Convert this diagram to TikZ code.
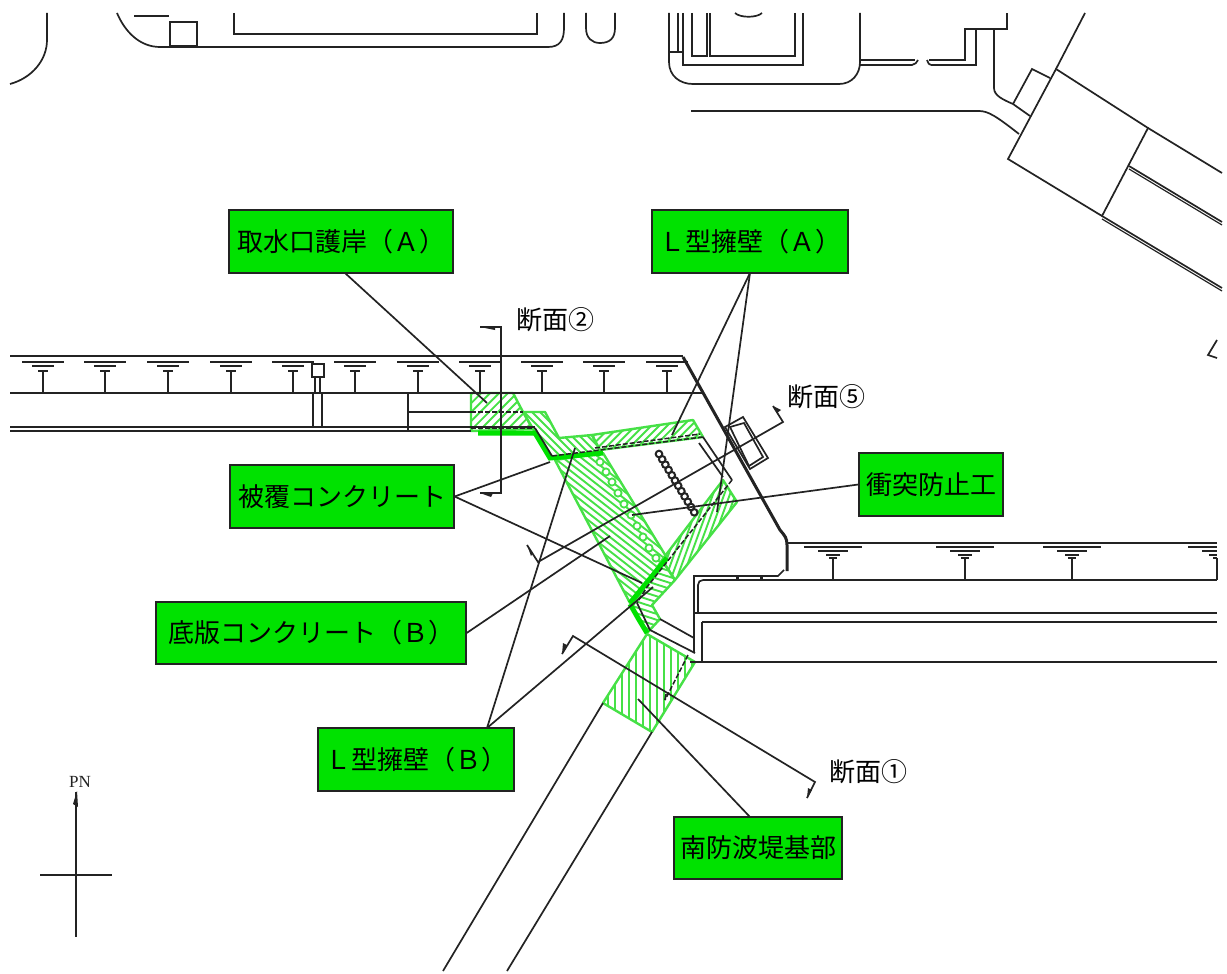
\documentclass[tikz,border=0pt]{standalone}
\usepackage{fontspec}
\setmainfont{Liberation Serif}
\newfontfamily\jpfont{Noto Sans CJK JP}
\definecolor{ink}{RGB}{35,35,35}
\definecolor{boxgreen}{RGB}{0,226,0}
\definecolor{hatchgreen}{RGB}{70,225,70}
\definecolor{solidgreen}{RGB}{0,225,0}
\tikzset{
 plan/.style={draw=ink,line width=1.7pt},
 heavy/.style={draw=ink,line width=3pt},
 leader/.style={draw=ink,line width=1.7pt},
 dashline/.style={draw=ink,line width=1.5pt,dash pattern=on 5pt off 2pt},
 hatchline/.style={draw=hatchgreen,line width=1.9pt},
 hatchedge/.style={draw=hatchgreen,line width=2.4pt,line join=round},
 solidg/.style={draw=solidgreen,line width=5pt},
 lab/.style={draw=ink,line width=1.3pt,fill=boxgreen,text=black,inner sep=0pt,font=\jpfont\fontsize{26}{26}\selectfont,anchor=center},
 sect/.style={text=black,font=\jpfont\fontsize{26}{26}\selectfont,inner sep=0pt},
 tip/.style={fill=ink,draw=none}
}
\newcommand\hatchfill[5]{%
 \begin{scope}\clip #1 -- cycle;
 \foreach \i in {-50,...,50}{\draw[hatchline,rotate around={#2:(#4,#5)}] ({#4-250},{#5+\i*#3}) -- ({#4+250},{#5+\i*#3});}
 \end{scope}
 \draw[hatchedge] #1 -- cycle;}
\newcommand\drainT[1]{%
 \draw[plan] (#1-21,362) -- (#1+21,362);
 \draw[plan,line width=2pt] (#1-11,366) -- (#1+11,366);
 \draw[plan,line width=2pt] (#1-5,371) -- (#1+5,371);
 \draw[plan] (#1,371) -- (#1,393);}
\newcommand\drainB[1]{%
 \draw[plan,line width=2pt] (#1-29,547) -- (#1+29,547);
 \draw[plan,line width=2pt] (#1-15,551) -- (#1+15,551);
 \draw[plan,line width=2pt] (#1-7,554.5) -- (#1+7,554.5);
 \draw[plan,line width=2pt] (#1-4,558) -- (#1+4,558);
 \draw[plan] (#1,558) -- (#1,580);}
\begin{document}
\begin{tikzpicture}[x=1pt,y=-1pt]
\useasboundingbox (0,0) rectangle (1227,974);
\fill[white] (0,0) rectangle (1227,974);
% hatching
\hatchfill{(471,393) -- (513,393) -- (523,412) -- (533,429) -- (471,431)}{45}{6.3}{500}{410}
\hatchfill{(523,412) -- (545,412) -- (559,438) -- (592,435) -- (600,451) -- (552,458) -- (533,429)}{-45}{5.6}{550}{430}
\hatchfill{(555,460) -- (603,453) -- (667,558) -- (630,603)}{-38}{5.6}{610}{530}
\hatchfill{(592,435) -- (693,420) -- (703,437) -- (600,450)}{45}{5.6}{650}{435}
\hatchfill{(723,480) -- (737,502) -- (675,580) -- (662,560)}{70}{5.3}{700}{530}
\hatchfill{(662,560) -- (675,580) -- (652,605) -- (660,619) -- (647,633) -- (632,607)}{-18}{5.6}{650}{600}
\hatchfill{(647,634) -- (695,662) -- (652,732) -- (603,703)}{90}{7}{650}{685}
\draw[solidg] (478,433) -- (535,433) -- (550,458) -- (603,453);
\draw[solidg] (630,603) -- (667,558);
\draw[solidg] (630,604) -- (638,618) -- (647,633);
% circles in band
\foreach \a/\b in {600/462,606/472,612/482,618/493,624/504,631/515,637/526,643/537,649/548,656/558}
 \draw[hatchgreen,line width=1.8pt,fill=white] (\a,\b) circle (3.6);
% chain
\foreach \i in {0,...,11}
 \draw[ink,line width=2pt] ({659+\i*3.2},{454+\i*5.3}) circle (3.3);
% top left
\draw[plan] (47,13) -- (47,40) .. controls (47,60) and (32,78) .. (10,84);
\draw[plan] (117,13) .. controls (125,32) and (140,47) .. (160,47) -- (548,47) .. controls (560,47) and (564,40) .. (564,28) -- (564,13);
\draw[plan] (134,16) -- (169,16);
\draw[plan] (170,22) rectangle (197,46);
\draw[plan] (234,13) -- (234,34) -- (537,34) -- (537,13);
\draw[plan] (586,13) -- (586,28) .. controls (586,38) and (592,43) .. (600,43) .. controls (610,43) and (615,38) .. (615,28) -- (615,13);
% top middle
\draw[plan] (669,13) -- (669,62) .. controls (669,76) and (680,84) .. (693,84) -- (839,84) .. controls (852,84) and (860,74) .. (860,62) -- (860,13);
\draw[plan] (683,13) -- (683,65) -- (803,65) -- (803,13);
\draw[plan] (795,13) -- (795,56) -- (710,56) -- (710,13);
\draw[plan] (692,13) -- (692,56) -- (707,56) -- (707,13);
\draw[plan] (678,13) -- (678,52);
\draw[plan] (669,52) -- (683,52);
\draw[plan] (735,13) .. controls (740,18) and (757,18) .. (762,13);
\draw[plan] (860,60) -- (915,60);
\draw[plan] (860,65) -- (912,65) .. controls (915,65) and (917,62) .. (918,60);
\draw[plan] (929,60) -- (965,60) -- (965,29) -- (1007,29) -- (1007,13);
\draw[plan] (931,65) -- (976,65) -- (976,29);
\draw[plan] (927,60) .. controls (928,63) and (929,65) .. (931,65);
% top right building
\draw[plan] (994,29) -- (994,88) .. controls (994,96) and (1004,100) .. (1013,104);
\draw[plan] (1013,104) -- (1032,69) -- (1050,78);
\draw[plan] (1013,104) -- (1030,116);
\draw[plan] (1056,69) -- (1008,159) -- (1102,216) -- (1148,128) -- cycle;
\draw[plan] (1085,13) -- (1056,69);
\draw[plan] (1148,128) -- (1222,173);
\draw[plan] (1129,166) -- (1222,222);
\draw[plan,line width=1.2pt] (1129,169) -- (1222,225);
\draw[plan] (1102,216) -- (1222,288);
\draw[plan,line width=1.2pt] (1102,219) -- (1222,291);
\draw[plan] (691,111) -- (979,111) .. controls (988,111) and (996,116) .. (1019,134);
% right-hand stub
\draw[plan] (1217,340) -- (1208,355) -- (1217,358);
% upper quay
\draw[plan] (10,356) -- (683,356);
\draw[plan] (10,393) -- (703,393);
\draw[plan] (10,427) -- (535,427);
\draw[plan] (10,431) -- (471,431);
\draw[plan] (408,393) -- (408,431);
\draw[plan] (408,412) -- (471,412);
\draw[dashline] (471,412) -- (523,412);
\draw[dashline] (471,428) -- (535,428);
\foreach \x in {43,105,168,231,293,355,418,480,542,604,667} {\drainT{\x}}
% gauge post
\draw[plan,fill=white] (312,364) rectangle (324,377);
\draw[plan] (315,377) -- (315,393);
\draw[plan] (320,377) -- (320,393);
\draw[plan] (313,393) -- (313,427);
\draw[plan] (322,393) -- (322,427);
% central outline
\draw[plan] (535,428) -- (552,456);
\draw[dashline] (552,456) -- (703,437);
\draw[dashline] (595,448) -- (700,434);
\draw[plan] (703,437) -- (732,480);
\draw[plan] (699,443) -- (723,477);
\draw[dashline] (732,480) -- (647,587) -- (637,603);
\draw[plan] (637,603) -- (650,630) -- (695,653);
\draw[plan] (660,619) -- (694,638);
\draw[dashline] (688,655) -- (665,700);
\draw[plan] (665,700) -- (666,694);
% heavy sea wall
\draw[heavy] (683,357) -- (780,530) .. controls (785,536) and (787,538) .. (787,545) -- (787,571);
\draw[plan] (725,427) -- (743,417) -- (768,458) -- (750,469) -- cycle;
\draw[plan] (730,427) -- (744,423) -- (763,457) -- (749,466) -- cycle;
% lower quay
\draw[plan] (787,543) -- (1217,543);
\draw[plan] (787,580) -- (1217,580);
\draw[plan] (703,580) -- (787,580);
\draw[plan] (703,580) .. controls (700,580) and (698,582) .. (698,585) -- (698,613);
\draw[plan] (694,653) -- (694,576) -- (778,576) -- (784,570);
\draw[plan] (694,613) -- (1217,613);
\draw[plan] (702,622) -- (1217,622);
\draw[plan] (702,622) -- (702,662);
\draw[plan] (690,662) -- (1217,662);
\draw[plan,line width=3pt] (737,576) -- (737,580);
\draw[plan,line width=3pt] (761,576) -- (761,580);
\foreach \x in {833,965,1072} {\drainB{\x}}
\draw[plan,line width=2pt] (1188,547) -- (1217,547);
\draw[plan,line width=2pt] (1202,551) -- (1217,551);
\draw[plan,line width=2pt] (1209,554.5) -- (1217,554.5);
\draw[plan,line width=2pt] (1213,558) -- (1217,558);
\draw[plan] (1217,558) -- (1217,580);
% south breakwater
\draw[plan] (603,703) -- (443,971);
\draw[plan] (652,732) -- (507,971);
% compass
\draw[plan] (76,792) -- (76,937);
\draw[plan] (40,875) -- (112,875);
\fill[ink] (77,791) -- (73,804) -- (78,807) -- cycle;
\node[font=\fontsize{17}{17}\selectfont,inner sep=0pt,text=ink] (north) at (80,782) {PN};
% labels
\node[lab,minimum width=224pt,minimum height=63pt] (torisui) at (341,241.5) {取水口護岸（Ａ）};
\node[lab,minimum width=196pt,minimum height=63pt] (lA) at (750,241.5) {Ｌ型擁壁（Ａ）};
\node[lab,minimum width=224pt,minimum height=63pt] (hifuku) at (342,496.5) {被覆コンクリート};
\node[lab,minimum width=144pt,minimum height=63pt] (shototsu) at (931,484.5) {衝突防止工};
\node[lab,minimum width=310pt,minimum height=62pt] (teiban) at (311,633) {底版コンクリート（Ｂ）};
\node[lab,minimum width=196pt,minimum height=63pt] (lB) at (416,759.5) {Ｌ型擁壁（Ｂ）};
\node[lab,minimum width=168pt,minimum height=62pt] (minami) at (758,848) {南防波堤基部};
\node[sect] (s2) at (555,320) {断面②};
\node[sect] (s5) at (826,397) {断面⑤};
\node[sect] (s1) at (868,772) {断面①};
% leader end points
\coordinate (tA) at (487,403);
\coordinate (tLA1) at (672,435);
\coordinate (tLA2) at (717,512);
\coordinate (tH1) at (550,462);
\coordinate (tH2) at (642,583);
\coordinate (tS) at (632,515);
\coordinate (tT) at (610,536);
\coordinate (tLB1) at (575,448);
\coordinate (tLB2) at (653,587);
\coordinate (tM) at (638,699);
\coordinate (oLA) at (750,273);
\coordinate (oLB) at (487,728);
\coordinate (oT) at (345,273);
\coordinate (oM) at (750,817);
\draw[leader] (oT) -- (tA);
\draw[leader] (oLA) -- (tLA1);
\draw[leader] (oLA) -- (tLA2);
\draw[leader] (hifuku.east) -- (tH1);
\draw[leader] (hifuku.east) -- (tH2);
\draw[leader] (shototsu.west) -- (tS);
\draw[leader] (teiban.east) -- (tT);
\draw[leader] (oLB) -- (tLB1);
\draw[leader] (oLB) -- (tLB2);
\draw[leader] (oM) -- (tM);
% section lines
\coordinate (a2) at (480,327);
\coordinate (b2) at (501,327);
\coordinate (c2) at (501,493);
\coordinate (d2) at (480,493);
\draw[leader] (a2) -- (b2) -- (c2) -- (d2);
\fill[ink] (480,327) -- (495,326) -- (495,330) -- cycle;
\fill[ink] (480,493) -- (493,493) -- (491,497) -- cycle;
\coordinate (a5) at (527,545);
\coordinate (b5) at (538,562);
\coordinate (c5) at (783,422);
\coordinate (d5) at (773,406);
\draw[leader] (a5) -- (b5) -- (c5) -- (d5);
\fill[ink] (527,545) -- (531,556) -- (533,553) -- cycle;
\fill[ink] (773,406) -- (781,410) -- (777,413) -- cycle;
\coordinate (a1) at (562,654);
\coordinate (b1) at (573,636);
\coordinate (c1) at (815,782);
\coordinate (d1) at (807,798);
\draw[leader] (a1) -- (b1) -- (c1) -- (d1);
\fill[ink] (562,654) -- (563,643) -- (567,645) -- cycle;
\fill[ink] (807,798) -- (808,788) -- (812,790) -- cycle;
\end{tikzpicture}
\end{document}
